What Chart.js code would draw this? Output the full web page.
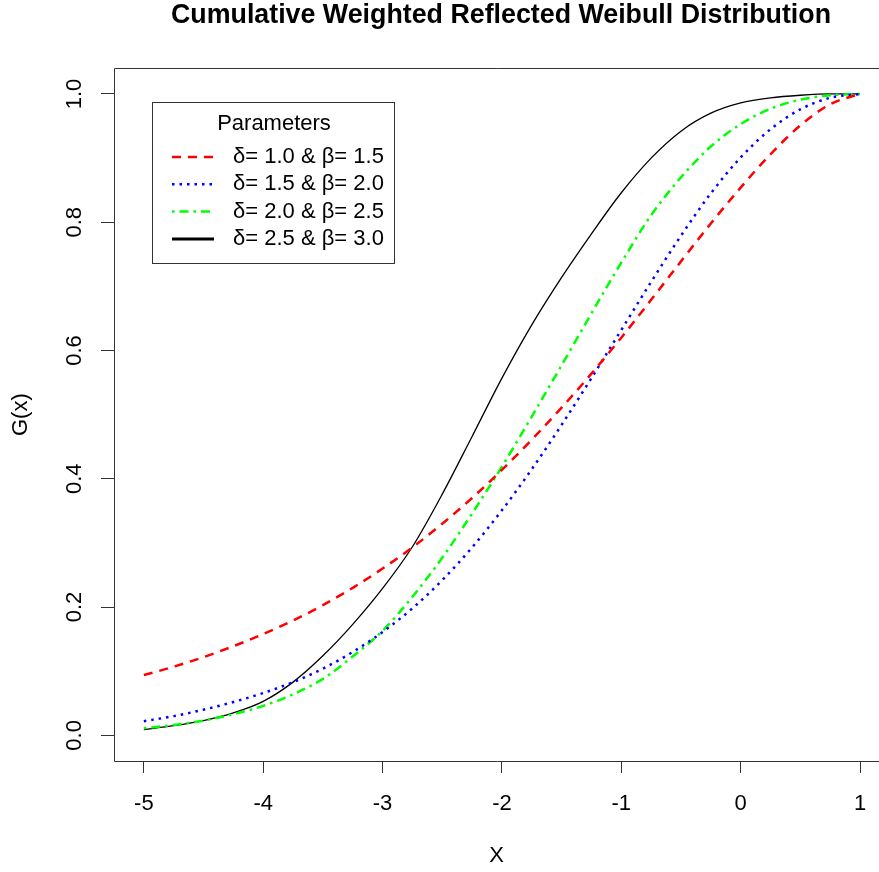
<!DOCTYPE html>
<html>
<head>
<meta charset="utf-8">
<title>Cumulative Weighted Reflected Weibull Distribution</title>
<script src="https://cdn.jsdelivr.net/npm/chart.js@4.4.1/dist/chart.umd.min.js"></script>
<style>
  html, body { margin: 0; padding: 0; background: #fff; }
  #wrap { width: 879px; height: 872px; }
</style>
</head>
<body>
<div id="wrap"><canvas id="chart" width="879" height="872"></canvas></div>
<script>
// values
const xValues = [-5, -4.75, -4.5, -4.25, -4, -3.75, -3.5, -3.25, -3, -2.75, -2.5, -2.25, -2,
  -1.75, -1.5, -1.25, -1, -0.75, -0.5, -0.25, 0, 0.25, 0.5, 0.75, 1];

// delta = 1.0, beta = 1.5
const gD10B15 = [0.094, 0.107, 0.122, 0.139, 0.158, 0.179, 0.203, 0.230, 0.260, 0.293, 0.330, 0.370, 0.414,
  0.461, 0.511, 0.564, 0.620, 0.679, 0.739, 0.798, 0.854, 0.906, 0.951, 0.984, 1.000];
// delta = 1.5, beta = 2.0
const gD15B20 = [0.022, 0.030, 0.040, 0.052, 0.066, 0.083, 0.104, 0.130, 0.161, 0.198, 0.242, 0.293, 0.351,
  0.415, 0.484, 0.557, 0.632, 0.707, 0.779, 0.845, 0.901, 0.945, 0.976, 0.994, 1.000];
// delta = 2.0, beta = 2.5
const gD20B25 = [0.011, 0.016, 0.023, 0.033, 0.046, 0.064, 0.088, 0.123, 0.163, 0.216, 0.277, 0.346, 0.419,
  0.497, 0.577, 0.658, 0.737, 0.811, 0.870, 0.918, 0.953, 0.977, 0.991, 0.998, 1.000];
// delta = 2.5, beta = 3.0
const gD25B30 = [0.009, 0.015, 0.023, 0.035, 0.053, 0.083, 0.124, 0.173, 0.229, 0.294, 0.376, 0.466, 0.557,
  0.640, 0.714, 0.782, 0.846, 0.900, 0.942, 0.970, 0.986, 0.994, 0.998, 1.000, 1.000];

const legendLabels = ['δ= 1.0 & β= 1.5', 'δ= 1.5 & β= 2.0', 'δ= 2.0 & β= 2.5', 'δ= 2.5 & β= 3.0'];
const legendTitle = 'Parameters';
const chartTitle = 'Cumulative Weighted Reflected Weibull Distribution';

const FONT = '"Liberation Sans", Arial, Helvetica, sans-serif';

const styles = [
  { color: '#ff0000', dash: [9, 7], width: 2.5, legendWidth: 2.5 },
  { color: '#0000ff', dash: [2.5, 5], width: 2.5, legendWidth: 2.5 },
  { color: '#00ff00', dash: [2.5, 5, 9, 5], width: 2.5, legendWidth: 2.5 },
  { color: '#000000', dash: [], width: 1.3, legendWidth: 3 }
];

const allSeries = [gD10B15, gD15B20, gD20B25, gD25B30];

const datasets = allSeries.map((vals, i) => ({
  label: legendLabels[i],
  data: xValues.map((x, j) => ({ x: x, y: vals[j] })),
  borderColor: styles[i].color,
  borderWidth: styles[i].width,
  borderDash: styles[i].dash,
  pointRadius: 0,
  fill: false,
  cubicInterpolationMode: 'monotone'
}));

// box around plot, title, rotated y labels and the R style legend
const rFrame = {
  id: 'rFrame',
  afterDraw(chart) {
    const { ctx, chartArea: a } = chart;
    const yScale = chart.scales.y;
    ctx.save();

    ctx.strokeStyle = '#333';
    ctx.lineWidth = 1;
    ctx.beginPath();
    ctx.moveTo(chart.width + 2, Math.round(a.top) + 0.5);
    ctx.lineTo(Math.round(a.left) + 0.5, Math.round(a.top) + 0.5);
    ctx.lineTo(Math.round(a.left) + 0.5, Math.round(a.bottom) + 0.5);
    ctx.lineTo(chart.width + 2, Math.round(a.bottom) + 0.5);
    ctx.stroke();

    // main title
    ctx.fillStyle = '#000';
    ctx.font = 'bold 26.8px ' + FONT;
    ctx.textAlign = 'center';
    ctx.textBaseline = 'middle';
    ctx.fillText(chartTitle, 501, 16);

    // y tick labels, read bottom to top like R
    ctx.font = '22px ' + FONT;
    yScale.ticks.forEach(t => {
      const py = yScale.getPixelForValue(t.value);
      ctx.save();
      ctx.translate(75, py);
      ctx.rotate(-Math.PI / 2);
      ctx.fillText(t.value.toFixed(1), 0, 0);
      ctx.restore();
    });

    // legend
    const lx = 152.5, ly = 102.5, lw = 242, lh = 161;
    ctx.fillStyle = '#fff';
    ctx.fillRect(lx, ly, lw, lh);
    ctx.strokeStyle = '#333';
    ctx.strokeRect(lx, ly, lw, lh);
    ctx.fillStyle = '#000';
    ctx.textAlign = 'center';
    ctx.fillText(legendTitle, 274, 124);
    ctx.textAlign = 'left';
    chart.data.datasets.forEach((ds, i) => {
      const ry = 157 + i * 27.3;
      ctx.save();
      ctx.strokeStyle = ds.borderColor;
      ctx.lineWidth = styles[i].legendWidth;
      ctx.setLineDash(ds.borderDash);
      ctx.beginPath();
      ctx.moveTo(172, ry);
      ctx.lineTo(214, ry);
      ctx.stroke();
      ctx.restore();
      ctx.fillText(ds.label, 233, ry);
    });

    ctx.restore();
  }
};

new Chart(document.getElementById('chart'), {
  type: 'line',
  data: { datasets: datasets },
  options: {
    responsive: false,
    animation: false,
    devicePixelRatio: 1,
    layout: { padding: { top: 68.3, left: 0, right: 0, bottom: 0 } },
    plugins: {
      legend: { display: false },
      tooltip: { enabled: false },
      title: { display: false }
    },
    scales: {
      x: {
        type: 'linear',
        min: -5.25,
        max: 1.159,
        afterFit(scale) {
          scale.height = 111;
          scale.paddingLeft = 0;
          scale.paddingRight = 0;
        },
        grid: { display: true, drawOnChartArea: false, drawTicks: true, tickLength: 12, color: '#333' },
        border: { display: false },
        ticks: {
          stepSize: 1,
          includeBounds: false,
          color: '#000',
          padding: 18,
          font: { family: FONT, size: 22 },
          callback: v => String(v)
        },
        title: {
          display: true,
          text: 'X',
          color: '#000',
          font: { family: FONT, size: 22 },
          padding: { top: 0, bottom: 3 }
        }
      },
      y: {
        type: 'linear',
        min: -0.04,
        max: 1.04,
        afterFit(scale) { scale.width = 114; },
        grid: { display: true, drawOnChartArea: false, drawTicks: true, tickLength: 13, color: '#333' },
        border: { display: false },
        ticks: { stepSize: 0.2, includeBounds: false, display: false },
        title: {
          display: true,
          text: 'G(x)',
          color: '#000',
          font: { family: FONT, size: 22 },
          padding: { top: 8, bottom: 0 }
        }
      }
    }
  },
  plugins: [rFrame]
});
</script>
</body>
</html>
